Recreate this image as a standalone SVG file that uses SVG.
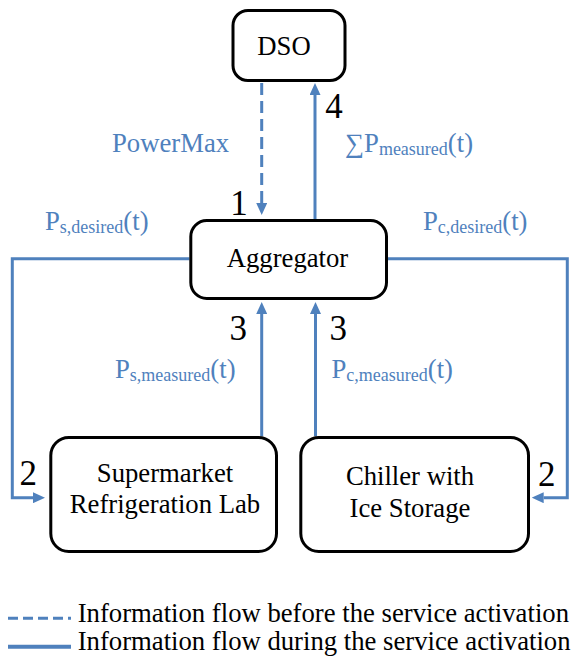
<svg xmlns="http://www.w3.org/2000/svg" width="572" height="656" viewBox="0 0 572 656">
  <style>
    text { font-family: 'Liberation Serif', 'Times New Roman', 'DejaVu Serif', serif; }
    .box { fill: #ffffff; stroke: #000000; stroke-width: 3; }
    .t { font-size: 26.7px; fill: #000000; }
    .num { font-size: 35px; fill: #000000; text-anchor: middle; }
    .lbl { font-size: 26.7px; fill: #4F81BD; }
    .sub { font-size: 18px; }
    .c { fill: none; stroke: #4F81BD; stroke-width: 3; }
    .dash { stroke-dasharray: 12 6; }
  </style>
  <defs>
    <marker id="ah" viewBox="0 0 12 11" refX="0" refY="5.5" markerWidth="12" markerHeight="11" markerUnits="userSpaceOnUse" orient="auto">
      <path d="M0,0 L12,5.5 L0,11 z" fill="#4F81BD"/>
    </marker>
  </defs>

  <g id="connectors">
    <line class="c dash" x1="261.7" y1="83" x2="261.7" y2="203" marker-end="url(#ah)"/>
    <line class="c" x1="315" y1="219" x2="315" y2="95" marker-end="url(#ah)"/>
    <path class="c" d="M189.5,258.7 H12.3 V497.7 H33" marker-end="url(#ah)"/>
    <path class="c" d="M388,258.7 H567.3 V497.7 H543.7" marker-end="url(#ah)"/>
    <line class="c" x1="261.7" y1="436" x2="261.7" y2="314" marker-end="url(#ah)"/>
    <line class="c" x1="315.5" y1="436" x2="315.5" y2="314" marker-end="url(#ah)"/>
  </g>

  <g id="dso">
    <rect class="box" x="233" y="10.5" width="112" height="70" rx="15"/>
    <text class="t" x="284" y="55" text-anchor="middle" font-family="Liberation Serif, serif">DSO</text>
  </g>

  <g id="aggregator">
    <rect class="box" x="190.8" y="220.5" width="195.7" height="78" rx="16"/>
    <text class="t" x="287.5" y="266.7" text-anchor="middle">Aggregator</text>
  </g>

  <g id="supermarket">
    <rect class="box" x="50.8" y="437.5" width="225.7" height="114" rx="18"/>
    <text class="t" x="165" y="481.7" text-anchor="middle">Supermarket</text>
    <text class="t" x="165" y="513.3" text-anchor="middle">Refrigeration Lab</text>
  </g>

  <g id="chiller">
    <rect class="box" x="300.8" y="437.5" width="227.7" height="114" rx="18"/>
    <text class="t" x="410" y="485" text-anchor="middle">Chiller with</text>
    <text class="t" x="410" y="516.7" text-anchor="middle">Ice Storage</text>
  </g>

  <g id="labels">
    <text class="lbl" x="112" y="151.7">PowerMax</text>
    <text class="lbl" x="345" y="151.7">∑P<tspan class="sub" dy="3">measured</tspan><tspan dy="-3">(t)</tspan></text>
    <text class="lbl" x="45" y="230">P<tspan class="sub" dy="3">s,desired</tspan><tspan dy="-3">(t)</tspan></text>
    <text class="lbl" x="423" y="230">P<tspan class="sub" dy="3">c,desired</tspan><tspan dy="-3">(t)</tspan></text>
    <text class="lbl" x="115" y="378">P<tspan class="sub" dy="3">s,measured</tspan><tspan dy="-3">(t)</tspan></text>
    <text class="lbl" x="331.5" y="378">P<tspan class="sub" dy="3">c,measured</tspan><tspan dy="-3">(t)</tspan></text>
  </g>

  <g id="step-numbers">
    <text class="num" x="239" y="215">1</text>
    <text class="num" x="334" y="118">4</text>
    <text class="num" x="238.3" y="340">3</text>
    <text class="num" x="338.3" y="340">3</text>
    <text class="num" x="28.3" y="485">2</text>
    <text class="num" x="546.7" y="485.7">2</text>
  </g>

  <g id="legend">
    <line x1="8" y1="618.3" x2="71" y2="618.3" stroke="#4F81BD" stroke-width="3" stroke-dasharray="10 5"/>
    <line x1="8" y1="646.7" x2="71" y2="646.7" stroke="#4F81BD" stroke-width="4"/>
    <text class="t" x="77.7" y="621.7">Information flow before the service activation</text>
    <text class="t" x="77.7" y="650">Information flow during the service activation</text>
  </g>
</svg>
